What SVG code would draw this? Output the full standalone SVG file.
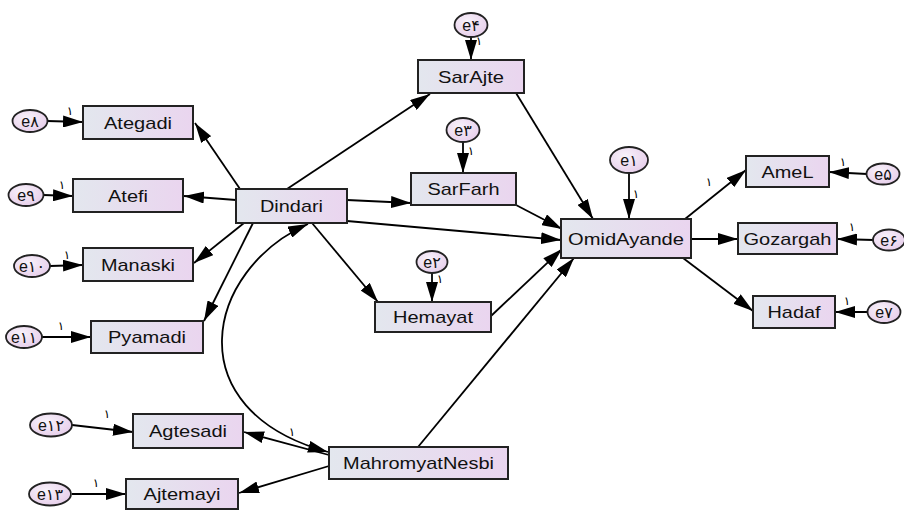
<svg xmlns="http://www.w3.org/2000/svg" width="904" height="510" viewBox="0 0 904 510">
<defs>
<linearGradient id="box" x1="0" y1="0" x2="1" y2="0">
<stop offset="0" stop-color="#e3e7ee"/>
<stop offset="1" stop-color="#ead5ef"/>
</linearGradient>
<radialGradient id="ell" cx="0.4" cy="0.35" r="0.7">
<stop offset="0" stop-color="#f8f2fa"/>
<stop offset="1" stop-color="#e6cdea"/>
</radialGradient>
<marker id="ah" markerUnits="userSpaceOnUse" markerWidth="20" markerHeight="12" refX="20" refY="6" orient="auto-start-reverse" viewBox="0 0 20 12">
<path d="M0,0 L20,6 L0,12 z" fill="#000"/>
</marker>
<style>
.b{fill:url(#box);stroke:#222;stroke-width:2}
.e{fill:url(#ell);stroke:#222;stroke-width:1.8}
.t{font-family:"Liberation Sans","DejaVu Sans",Arial,sans-serif;font-size:17px;fill:#111;text-anchor:middle}
.et{font-family:"Liberation Sans","DejaVu Sans",Arial,sans-serif;font-size:16px;fill:#111;text-anchor:middle}
.one{font-family:"DejaVu Sans","Liberation Sans",sans-serif;font-size:12px;fill:#000;text-anchor:middle}
.c{stroke:#000;stroke-width:1.8;fill:none;marker-end:url(#ah)}
</style>
</defs>
<g id="connectors">
<line class="c" x1="47" y1="121" x2="83" y2="122"/>
<line class="c" x1="43" y1="195" x2="73" y2="196"/>
<line class="c" x1="50" y1="266" x2="83" y2="265"/>
<line class="c" x1="42" y1="337" x2="91" y2="337"/>
<line class="c" x1="72" y1="425" x2="133" y2="432"/>
<line class="c" x1="72" y1="494" x2="126" y2="494"/>
<line class="c" x1="240" y1="189" x2="195" y2="123"/>
<line class="c" x1="236" y1="200" x2="184" y2="196"/>
<line class="c" x1="244" y1="223" x2="194" y2="263"/>
<line class="c" x1="253" y1="223" x2="204" y2="321"/>
<line class="c" x1="287" y1="189" x2="430" y2="94"/>
<line class="c" x1="347" y1="200" x2="411" y2="203"/>
<line class="c" x1="347" y1="221" x2="561" y2="240"/>
<line class="c" x1="312" y1="223" x2="378" y2="302"/>
<line class="c" x1="516" y1="93" x2="593" y2="219"/>
<line class="c" x1="516" y1="205" x2="562" y2="229"/>
<line class="c" x1="491" y1="316" x2="562" y2="249"/>
<line class="c" x1="418" y1="447" x2="574" y2="258"/>
<line class="c" x1="329" y1="455" x2="244" y2="432"/>
<line class="c" x1="329" y1="466" x2="239" y2="493"/>
<path class="c" style="marker-start:url(#ah)" d="M308,224 C205,270 175,410 328,452"/>
<line class="c" x1="629" y1="173" x2="629" y2="219"/>
<line class="c" x1="471" y1="37" x2="471" y2="60"/>
<line class="c" x1="463" y1="142" x2="463" y2="173"/>
<line class="c" x1="432" y1="272" x2="432" y2="302"/>
<line class="c" x1="685" y1="219" x2="746" y2="170"/>
<line class="c" x1="691" y1="239" x2="738" y2="239"/>
<line class="c" x1="683" y1="258" x2="753" y2="311"/>
<line class="c" x1="867" y1="174" x2="829" y2="172"/>
<line class="c" x1="874" y1="240" x2="837" y2="239"/>
<line class="c" x1="868" y1="312" x2="835" y2="312"/>
<text class="one" x="70" y="115">۱</text>
<text class="one" x="62" y="189">۱</text>
<text class="one" x="67" y="259">۱</text>
<text class="one" x="61" y="330">۱</text>
<text class="one" x="107" y="418">۱</text>
<text class="one" x="96" y="487">۱</text>
<text class="one" x="292" y="436">۱</text>
<text class="one" x="636" y="198">۱</text>
<text class="one" x="479" y="45">۱</text>
<text class="one" x="471" y="155">۱</text>
<text class="one" x="440" y="283">۱</text>
<text class="one" x="709" y="186">۱</text>
<text class="one" x="843" y="166">۱</text>
<text class="one" x="852" y="231">۱</text>
<text class="one" x="847" y="305">۱</text>
</g>
<g id="Ategadi"><rect class="b" x="83" y="106" width="110" height="33"/><text class="t" x="138" y="128.5" textLength="68" lengthAdjust="spacingAndGlyphs">Ategadi</text></g>
<g id="Atefi"><rect class="b" x="73" y="179" width="110" height="33"/><text class="t" x="128" y="201.5" textLength="40" lengthAdjust="spacingAndGlyphs">Atefi</text></g>
<g id="Manaski"><rect class="b" x="83" y="248" width="110" height="33"/><text class="t" x="138" y="270.5" textLength="74" lengthAdjust="spacingAndGlyphs">Manaski</text></g>
<g id="Pyamadi"><rect class="b" x="91" y="321" width="112" height="32"/><text class="t" x="147" y="343" textLength="78" lengthAdjust="spacingAndGlyphs">Pyamadi</text></g>
<g id="Agtesadi"><rect class="b" x="133" y="414" width="110" height="34"/><text class="t" x="188" y="437" textLength="78" lengthAdjust="spacingAndGlyphs">Agtesadi</text></g>
<g id="Ajtemayi"><rect class="b" x="126" y="479" width="112" height="30"/><text class="t" x="182" y="500" textLength="77" lengthAdjust="spacingAndGlyphs">Ajtemayi</text></g>
<g id="MahromyatNesbi"><rect class="b" x="329" y="447" width="179" height="32"/><text class="t" x="418.5" y="469" textLength="151" lengthAdjust="spacingAndGlyphs">MahromyatNesbi</text></g>
<g id="Dindari"><rect class="b" x="236" y="189" width="111" height="34"/><text class="t" x="291.5" y="212" textLength="63" lengthAdjust="spacingAndGlyphs">Dindari</text></g>
<g id="SarAjte"><rect class="b" x="418" y="60" width="106" height="33"/><text class="t" x="471" y="82.5" textLength="66" lengthAdjust="spacingAndGlyphs">SarAjte</text></g>
<g id="SarFarh"><rect class="b" x="411" y="173" width="105" height="32"/><text class="t" x="463.5" y="195" textLength="72" lengthAdjust="spacingAndGlyphs">SarFarh</text></g>
<g id="Hemayat"><rect class="b" x="375" y="302" width="116" height="30"/><text class="t" x="433" y="323" textLength="80" lengthAdjust="spacingAndGlyphs">Hemayat</text></g>
<g id="OmidAyande"><rect class="b" x="561" y="219" width="130" height="39"/><text class="t" x="626" y="244.5" textLength="116" lengthAdjust="spacingAndGlyphs">OmidAyande</text></g>
<g id="AmeL"><rect class="b" x="746" y="156" width="83" height="31"/><text class="t" x="787.5" y="177.5" textLength="52" lengthAdjust="spacingAndGlyphs">AmeL</text></g>
<g id="Gozargah"><rect class="b" x="738" y="223" width="99" height="31"/><text class="t" x="787.5" y="244.5" textLength="88" lengthAdjust="spacingAndGlyphs">Gozargah</text></g>
<g id="Hadaf"><rect class="b" x="753" y="296" width="82" height="32"/><text class="t" x="794" y="318" textLength="53" lengthAdjust="spacingAndGlyphs">Hadaf</text></g>
<g id="e8"><ellipse class="e" cx="30" cy="121" rx="17.5" ry="11"/><text class="et" x="30" y="126.5">e۸</text></g>
<g id="e9"><ellipse class="e" cx="26" cy="195" rx="17.5" ry="11"/><text class="et" x="26" y="200.5">e۹</text></g>
<g id="e10"><ellipse class="e" cx="32" cy="266" rx="18" ry="11"/><text class="et" x="32" y="271.5">e۱۰</text></g>
<g id="e11"><ellipse class="e" cx="24" cy="337" rx="18" ry="11"/><text class="et" x="24" y="342.5">e۱۱</text></g>
<g id="e12"><ellipse class="e" cx="51" cy="425" rx="21" ry="11.5"/><text class="et" x="51" y="430.5">e۱۲</text></g>
<g id="e13"><ellipse class="e" cx="50" cy="494" rx="21" ry="11.5"/><text class="et" x="50" y="499.5">e۱۳</text></g>
<g id="e4"><ellipse class="e" cx="471" cy="25" rx="16.5" ry="12"/><text class="et" x="471" y="30.5">e۴</text></g>
<g id="e3"><ellipse class="e" cx="463" cy="130" rx="16.5" ry="12"/><text class="et" x="463" y="135.5">e۳</text></g>
<g id="e2"><ellipse class="e" cx="432" cy="262" rx="15.5" ry="11"/><text class="et" x="432" y="267.5">e۲</text></g>
<g id="e1"><ellipse class="e" cx="629" cy="160" rx="19" ry="13"/><text class="et" x="629" y="165.5">e۱</text></g>
<g id="e5"><ellipse class="e" cx="883" cy="174" rx="16.5" ry="10.5"/><text class="et" x="883" y="179.5">e۵</text></g>
<g id="e6"><ellipse class="e" cx="889" cy="240" rx="16" ry="10.5"/><text class="et" x="889" y="245.5">e۶</text></g>
<g id="e7"><ellipse class="e" cx="884" cy="312" rx="16.5" ry="11"/><text class="et" x="884" y="317.5">e۷</text></g>
</svg>
